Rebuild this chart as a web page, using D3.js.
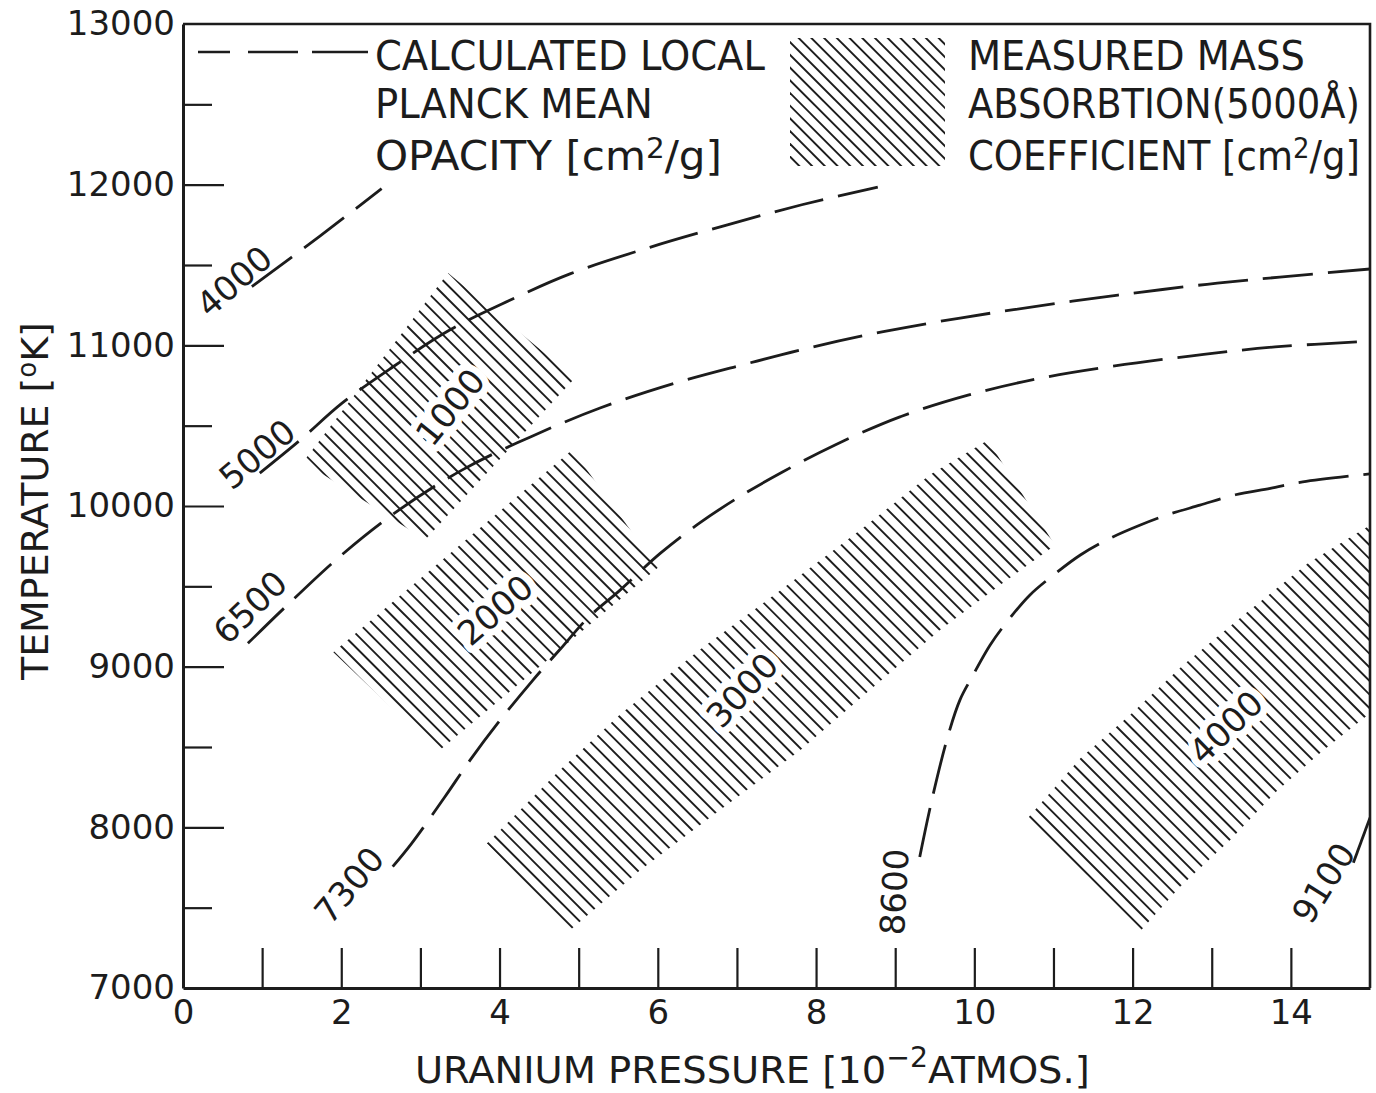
<!DOCTYPE html>
<html>
<head>
<meta charset="utf-8">
<script src="https://cdn.jsdelivr.net/npm/d3@7"></script>
<style>
  html, body { margin: 0; padding: 0; background: #fff; }
  svg { display: block; }
</style>
</head>
<body>
<svg id="chart" width="1376" height="1093"></svg>
<script>
// ---------------- data ----------------
// Uranium pressure in units of 1e-2 atm, temperature in K.
const xTickLabels = [0, 2, 4, 6, 8, 10, 12, 14];
const xTickMarks = d3.range(1, 15);
const yTickLabels = [7000, 8000, 9000, 10000, 11000, 12000, 13000];
const yMajorTicks = [8000, 9000, 10000, 11000, 12000];
const yMinorTicks = [7500, 8500, 9500, 10500, 11500, 12500];

// Calculated local Planck mean opacity contours [pressure, temperature]
const contourValues = ["4000", "5000", "6500", "7300", "8600", "9100"];
const opacity4000 = [[0.87, 11365], [1.73, 11680], [2.51, 11975]];
const opacity5000 = [[0.97, 10205], [1.48, 10410], [2.01, 10640], [2.65, 10865], [3.37, 11095],
  [4.13, 11280], [4.89, 11445], [5.90, 11610], [6.88, 11750], [7.82, 11875], [8.78, 11985]];
const opacity6500 = [[0.82, 9145], [1.29, 9370], [1.98, 9685], [2.70, 9965], [3.53, 10225],
  [4.39, 10430], [5.27, 10610], [6.22, 10765], [7.08, 10880], [7.96, 10990], [8.85, 11085],
  [9.82, 11170], [11.24, 11275], [12.09, 11330], [12.94, 11380], [13.86, 11425], [15.0, 11475]];
const opacity7300 = [[2.65, 7755], [2.89, 7900], [3.31, 8190], [3.63, 8420], [3.98, 8650],
  [4.42, 8915], [4.76, 9105], [5.12, 9305], [5.52, 9475], [6.03, 9705], [6.53, 9895],
  [7.04, 10060], [7.57, 10210], [8.24, 10380], [9.06, 10555], [9.92, 10690], [10.83, 10795],
  [11.75, 10870], [12.75, 10935], [13.80, 10990], [15.0, 11025]];
const opacity8600 = [[9.31, 7815], [9.47, 8185], [9.67, 8575], [9.82, 8795], [9.97, 8935],
  [10.20, 9135], [10.43, 9290], [10.70, 9445], [11.00, 9570], [11.34, 9695], [11.72, 9800],
  [12.09, 9880], [12.44, 9945], [12.85, 10005], [13.30, 10070], [13.74, 10110], [14.15, 10150],
  [15.0, 10200]];
const opacity9100 = [[14.79, 7780], [15.0, 8060]];

// Measured mass absorption coefficient (5000 A) regions, outline [pressure, temperature]
const bandValues = ["1000", "2000", "3000", "4000"];
const absorption1000 = [[1.52, 10275], [3.35, 11450], [4.95, 10795], [3.06, 9790]];
const absorption2000 = [[1.90, 9090], [4.92, 10350], [6.00, 9615], [3.22, 8470]];
const absorption3000 = [[3.84, 7900], [4.76, 8355], [5.52, 8700], [6.53, 9105], [7.55, 9475],
  [8.56, 9850], [9.44, 10195], [10.17, 10410], [11.02, 9755], [10.33, 9510], [9.57, 9230],
  [8.68, 8855], [7.80, 8480], [6.79, 8110], [5.78, 7735], [4.89, 7360]];
const absorption4000 = [[10.68, 8060], [11.34, 8430], [11.97, 8700], [12.64, 9010], [13.45, 9340],
  [14.22, 9645], [15.0, 9880], [15.0, 8710], [14.41, 8480], [13.83, 8230], [13.23, 7920],
  [12.60, 7630], [12.09, 7350]];

// ---------------- layout ----------------
const ink = "#1c1c1c";
const font = '"DejaVu Sans", "Liberation Sans", sans-serif';
const svg = d3.select("#chart");
const plot = { left: 183, right: 1370, top: 24, bottom: 988 };

const x = d3.scaleLinear().domain([0, 15]).range([plot.left, plot.right]);
const y = d3.scaleLinear().domain([7000, 13000]).range([plot.bottom, plot.top]);

const contours = [
  { value: contourValues[0], points: opacity4000, label: [0.645, 11400], angle: -41 },
  { value: contourValues[1], points: opacity5000, label: [0.935, 10324], angle: -40 },
  { value: contourValues[2], points: opacity6500, label: [0.847, 9371], angle: -44 },
  { value: contourValues[3], points: opacity7300, label: [2.098, 7641], angle: -50 },
  { value: contourValues[4], points: opacity8600, label: [8.985, 7598], angle: -87 },
  { value: contourValues[5], points: opacity9100, label: [14.41, 7654], angle: -58 }
];
const bands = [
  { value: bandValues[0], outline: absorption1000, label: [3.374, 10616], angle: -51 },
  { value: bandValues[1], outline: absorption2000, label: [3.943, 9353], angle: -41 },
  { value: bandValues[2], outline: absorption3000, label: [7.064, 8855], angle: -47 },
  { value: bandValues[3], outline: absorption4000, label: [13.18, 8624], angle: -44 }
];

const defs = svg.append("defs");
defs.append("clipPath").attr("id", "plot-clip")
  .append("rect")
  .attr("x", plot.left).attr("y", plot.top)
  .attr("width", plot.right - plot.left).attr("height", plot.bottom - plot.top);

// Parallel hatch lines covering a pixel polygon (clip applied by caller)
function hatch(g, poly, spacing, angleDeg) {
  const a = angleDeg * Math.PI / 180;
  const dx = Math.cos(a), dy = Math.sin(a);
  const nx = -dy, ny = dx;
  const [c0, c1] = d3.extent(poly, p => p[0] * nx + p[1] * ny);
  const [t0, t1] = d3.extent(poly, p => p[0] * dx + p[1] * dy);
  const offsets = d3.range(c0 + spacing / 2, c1, spacing);
  g.selectAll("line.h").data(offsets).join("line")
    .attr("class", "h")
    .attr("x1", c => c * nx + (t0 - 4) * dx).attr("y1", c => c * ny + (t0 - 4) * dy)
    .attr("x2", c => c * nx + (t1 + 4) * dx).attr("y2", c => c * ny + (t1 + 4) * dy)
    .attr("stroke", ink).attr("stroke-width", 1.9);
}

const plotLayer = svg.append("g").attr("clip-path", "url(#plot-clip)");

// ---------------- hatched absorption regions ----------------
const outlinePath = d3.line().x(d => x(d[0])).y(d => y(d[1])).curve(d3.curveLinearClosed);
bands.forEach((b, i) => {
  const id = "band-clip-" + i;
  defs.append("clipPath").attr("id", id).append("path").attr("d", outlinePath(b.outline));
  const g = plotLayer.append("g").attr("clip-path", `url(#${id})`);
  hatch(g, b.outline.map(p => [x(p[0]), y(p[1])]), 9.6, 45);
});

// ---------------- dashed opacity contours ----------------
const curve = d3.line().x(d => x(d[0])).y(d => y(d[1])).curve(d3.curveCatmullRom.alpha(0.5));
plotLayer.selectAll("path.contour").data(contours).join("path")
  .attr("class", "contour")
  .attr("d", d => curve(d.points))
  .attr("fill", "none")
  .attr("stroke", ink)
  .attr("stroke-width", 2.8)
  .attr("stroke-dasharray", "50,15");

// region labels, with a white clearance around the digits
svg.selectAll("text.band-label").data(bands).join("text")
  .attr("class", "band-label")
  .attr("transform", d => `translate(${x(d.label[0])},${y(d.label[1])}) rotate(${d.angle})`)
  .attr("text-anchor", "middle").attr("dy", "0.36em")
  .attr("font-family", font).attr("font-size", 34).attr("fill", ink)
  .attr("stroke", "#fff").attr("stroke-width", 14).attr("paint-order", "stroke")
  .attr("stroke-linejoin", "round")
  .text(d => d.value);

// contour labels
svg.selectAll("text.contour-label").data(contours).join("text")
  .attr("class", "contour-label")
  .attr("transform", d => `translate(${x(d.label[0])},${y(d.label[1])}) rotate(${d.angle})`)
  .attr("text-anchor", "middle").attr("dy", "0.36em")
  .attr("font-family", font).attr("font-size", 34).attr("fill", ink)
  .text(d => d.value);

// ---------------- axes ----------------
function styleAxis(g, width) {
  g.selectAll("path.domain").attr("stroke", ink).attr("stroke-width", width);
  g.selectAll(".tick line").attr("stroke", ink).attr("stroke-width", 2.2);
  g.selectAll(".tick text").attr("fill", ink);
  g.attr("font-family", font).attr("font-size", 34);
}

const xMarks = svg.append("g").attr("transform", `translate(0,${plot.bottom})`)
  .call(d3.axisTop(x).tickValues(xTickMarks).tickSize(40).tickSizeOuter(0).tickFormat(""));
styleAxis(xMarks, 3);

const xLabels = svg.append("g").attr("transform", `translate(0,${plot.bottom})`)
  .call(d3.axisBottom(x).tickValues(xTickLabels).tickSize(0).tickPadding(12).tickFormat(d3.format("d")));
xLabels.select("path.domain").remove();
styleAxis(xLabels, 0);

const yMajor = svg.append("g").attr("transform", `translate(${plot.left},0)`)
  .call(d3.axisRight(y).tickValues(yMajorTicks).tickSize(41).tickSizeOuter(0).tickFormat(""));
styleAxis(yMajor, 3);

const yMinor = svg.append("g").attr("transform", `translate(${plot.left},0)`)
  .call(d3.axisRight(y).tickValues(yMinorTicks).tickSize(29).tickFormat(""));
yMinor.select("path.domain").remove();
styleAxis(yMinor, 0);

const yLabels = svg.append("g").attr("transform", `translate(${plot.left},0)`)
  .call(d3.axisLeft(y).tickValues(yTickLabels).tickSize(0).tickPadding(8).tickFormat(d3.format("d")));
yLabels.select("path.domain").remove();
styleAxis(yLabels, 0);

// top and right frame
svg.append("path")
  .attr("d", `M${plot.left},${plot.top}H${plot.right}V${plot.bottom}`)
  .attr("fill", "none").attr("stroke", ink).attr("stroke-width", 2.6);

// ---------------- text blocks ----------------
// Places a text at (x0, baseline) and squeezes it horizontally to the given width.
function fitted(parent, x0, base, width, size, build, rotate) {
  const g = parent.append("g");
  const t = g.append("text").attr("font-family", font).attr("font-size", size).attr("fill", ink);
  build(t);
  const w = t.node().getComputedTextLength();
  const k = width / w;
  const rot = rotate ? ` rotate(${rotate})` : "";
  g.attr("transform", `translate(${x0},${base})${rot} scale(${k},1)`);
  return g;
}
const plain = s => t => t.text(s);

// legend: dashed sample + description
svg.append("line")
  .attr("x1", 198).attr("x2", 368).attr("y1", 52).attr("y2", 52)
  .attr("stroke", ink).attr("stroke-width", 2.6).attr("stroke-dasharray", "32,18,50,14,60");

fitted(svg, 375, 70, 390, 40, plain("CALCULATED LOCAL"));
fitted(svg, 375, 118, 278, 40, plain("PLANCK MEAN"));
fitted(svg, 375, 170, 347, 40, t => {
  t.append("tspan").text("OPACITY  [cm");
  t.append("tspan").attr("font-size", 28).attr("dy", -12).text("2");
  t.append("tspan").attr("dy", 12).text("/g]");
});

// legend: hatched swatch + description
const swatch = [[790, 38], [945, 38], [945, 166], [790, 166]];
defs.append("clipPath").attr("id", "swatch-clip")
  .append("rect").attr("x", 790).attr("y", 38).attr("width", 155).attr("height", 128);
const swatchG = svg.append("g").attr("clip-path", "url(#swatch-clip)");
hatch(swatchG, swatch, 9, 45);

fitted(svg, 968, 70, 337, 40, plain("MEASURED  MASS"));
fitted(svg, 968, 118, 392, 40, plain("ABSORBTION(5000Å)"));
fitted(svg, 968, 170, 392, 40, t => {
  t.append("tspan").text("COEFFICIENT  [cm");
  t.append("tspan").attr("font-size", 28).attr("dy", -12).text("2");
  t.append("tspan").attr("dy", 12).text("/g]");
});

// axis titles
fitted(svg, 415, 1083, 675, 38, t => {
  t.append("tspan").text("URANIUM  PRESSURE  [10");
  t.append("tspan").attr("font-size", 28).attr("dy", -16).text("−2");
  t.append("tspan").attr("dy", 16).text("ATMOS.]");
});
fitted(svg, 48, 680, 358, 38, t => {
  t.append("tspan").text("TEMPERATURE [");
  t.append("tspan").attr("font-size", 26).attr("dy", -12).text("o");
  t.append("tspan").attr("dy", 12).text("K]");
}, -90);
</script>
</body>
</html>
